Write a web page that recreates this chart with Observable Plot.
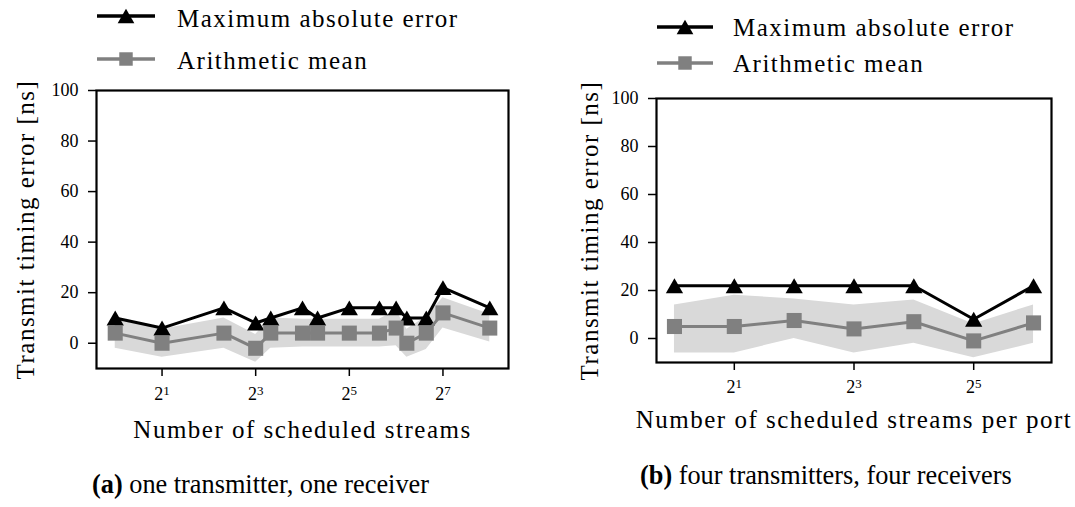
<!DOCTYPE html>
<html>
<head>
<meta charset="utf-8">
<script src="https://cdn.jsdelivr.net/npm/d3@7"></script>
<script src="https://cdn.jsdelivr.net/npm/@observablehq/plot@0.6"></script>
<style>
  body { margin: 0; background: #fff; }
  #fig { position: relative; width: 1075px; height: 507px; overflow: hidden; background: #fff; }
  #fig > svg { position: absolute; }
  #fig g[aria-label="text"] text { letter-spacing: 1.5px; }
</style>
</head>
<body>
<div id="fig"></div>
<script>
// Series labels shared by both panels
const seriesNames = ["Maximum absolute error", "Arithmetic mean"];
const yTicks = [0, 20, 40, 60, 80, 100];
const yLabel = "Transmit timing error [ns]";

// (a) one transmitter, one receiver
const streamsA = [1, 2, 5, 8, 10, 16, 20, 32, 50, 64, 75, 100, 128, 256];
const maxErrA  = [10, 6, 14, 8, 10, 14, 10, 14, 14, 14, 10, 10, 22, 14];
const meanA    = [4, 0, 4, -2, 4, 4, 4, 4, 4, 6, 0, 4, 12, 6];
const lowA     = [-2, -5.5, -2, -7.5, -2, -1.5, -1.5, -1.5, -1.5, -1, -5.5, -2.5, 6, 0.5];
const highA    = [10, 5.5, 10, 3.5, 10, 9.5, 9.5, 9.5, 9.5, 13, 5.5, 10.5, 18, 11.5];
const xTicksA  = [2, 8, 32, 128];
const xLabelA  = "Number of scheduled streams";
const captionA = ["(a)", " one transmitter, one receiver"];

// (b) four transmitters, four receivers
const streamsB = [1, 2, 4, 8, 16, 32, 64];
const maxErrB  = [22, 22, 22, 22, 22, 8, 22];
const meanB    = [5, 5, 7.5, 4, 7, -1, 6.5];
const lowB     = [-6, -6, 0, -6, -2, -8, -2];
const highB    = [14, 18, 16.5, 14, 16, 6, 14];
const xTicksB  = [2, 8, 32];
const xLabelB  = "Number of scheduled streams per port";
const captionB = ["(b)", " four transmitters, four receivers"];

const FONT = '"Liberation Serif", "Times New Roman", serif';
// tick text is "2^k"; rewritten below as a base with a raised exponent
const pow2 = (v) => "2^" + Math.round(Math.log2(v));

function panel(o) {
  const rows = o.streams.map((n, i) => ({n, max: o.maxErr[i], mean: o.mean[i], low: o.low[i], high: o.high[i]}));
  const e = d3.extent(o.streams, (d) => Math.log2(d));
  const pad = (e[1] - e[0]) * 0.05;
  const svg = Plot.plot({
    width: o.width,
    height: o.height,
    marginLeft: o.ml, marginRight: o.mr, marginTop: o.mt, marginBottom: o.mb,
    style: {fontFamily: FONT, fontSize: "18px", color: "black", background: "transparent", overflow: "visible"},
    x: {type: "log", base: 2, domain: [2 ** (e[0] - pad), 2 ** (e[1] + pad)]},
    y: {domain: [-10, 100]},
    marks: [
      Plot.areaY(rows, {x: "n", y1: "low", y2: "high", fill: "#d9d9d9"}),
      Plot.line(rows, {x: "n", y: "max", stroke: "black", strokeWidth: 3}),
      Plot.dot(rows, {x: "n", y: "max", symbol: "triangle", r: 6.4, fill: "black", dy: 2.5}),
      Plot.line(rows, {x: "n", y: "mean", stroke: "#808080", strokeWidth: 3}),
      Plot.dot(rows, {x: "n", y: "mean", symbol: "square", r: 8.5, fill: "#808080"}),
      Plot.frame({stroke: "black", strokeWidth: 2.2}),
      Plot.axisX({ticks: o.xTicks, tickFormat: pow2, tickSize: 8, tickPadding: o.tpx, strokeWidth: 1.5, label: null}),
      Plot.axisY({ticks: yTicks, tickSize: 8, tickPadding: 10, strokeWidth: 1.5, label: null}),
      Plot.text([o.xLabel], {frameAnchor: "bottom", dy: o.xdy, lineAnchor: "bottom", fontSize: 25, fill: "black"}),
      Plot.text([yLabel], {frameAnchor: "left", dx: o.ydx, rotate: -90, lineAnchor: "bottom", textAnchor: "middle", fontSize: 25, fill: "black"})
    ]
  });
  // Power-of-two tick labels: base "2" with a raised, smaller exponent
  d3.select(svg).selectAll('g[aria-label="x-axis tick label"] text').each(function () {
    const [base, exp] = this.textContent.split("^");
    if (exp === undefined) return;
    const t = d3.select(this).text("");
    t.append("tspan").text(base);
    t.append("tspan").attr("dy", "-0.42em").attr("font-size", "13px").text(exp);
  });
  svg.style.left = o.left + "px";
  svg.style.top = "0px";
  return svg;
}

const fig = document.getElementById("fig");

fig.appendChild(panel({
  streams: streamsA, maxErr: maxErrA, mean: meanA, low: lowA, high: highA,
  xTicks: xTicksA, xLabel: xLabelA,
  left: 0, width: 540, height: 450, ml: 96, mr: 32, mt: 90, mb: 82,
  tpx: 11, xdy: 69, ydx: -63
}));

fig.appendChild(panel({
  streams: streamsB, maxErr: maxErrB, mean: meanB, low: lowB, high: highB,
  xTicks: xTicksB, xLabel: xLabelB,
  left: 540, width: 535, height: 450, ml: 116, mr: 24, mt: 98, mb: 88,
  tpx: 10, xdy: 65, ydx: -59
}));

// Legends above each panel and sub-captions below
const over = d3.create("svg")
  .attr("width", 1075).attr("height", 507)
  .style("left", "0px").style("top", "0px")
  .style("pointer-events", "none")
  .attr("font-family", FONT);

const legendStyles = [
  {color: "black", symbol: d3.symbolTriangle, size: Math.PI * 6.2 * 6.2, dy: 2.4},
  {color: "#808080", symbol: d3.symbolSquare, size: Math.PI * 7.6 * 7.6, dy: 0}
];
const legends = [
  {x0: 97, x1: 155, tx: 177, rows: [16, 59], base: [27, 69]},
  {x0: 657, x1: 713, tx: 733, rows: [27, 63], base: [36, 72]}
];
for (const L of legends) {
  seriesNames.forEach((name, i) => {
    const s = legendStyles[i];
    const g = over.append("g");
    g.append("line").attr("x1", L.x0).attr("x2", L.x1).attr("y1", L.rows[i]).attr("y2", L.rows[i])
      .attr("stroke", s.color).attr("stroke-width", 3.5);
    g.append("path").attr("d", d3.symbol(s.symbol, s.size)())
      .attr("transform", `translate(${(L.x0 + L.x1) / 2},${L.rows[i] + s.dy})`)
      .attr("fill", s.color);
    g.append("text").attr("x", L.tx).attr("y", L.base[i])
      .attr("font-size", 25).attr("letter-spacing", "1.5px").text(name);
  });
}

const captions = [
  {parts: captionA, x: 92, y: 493},
  {parts: captionB, x: 640, y: 484}
];
for (const c of captions) {
  const t = over.append("text").attr("x", c.x).attr("y", c.y).attr("font-size", 26.3);
  t.append("tspan").attr("font-weight", "bold").text(c.parts[0]);
  t.append("tspan").text(c.parts[1]);
}

fig.appendChild(over.node());
</script>
</body>
</html>
